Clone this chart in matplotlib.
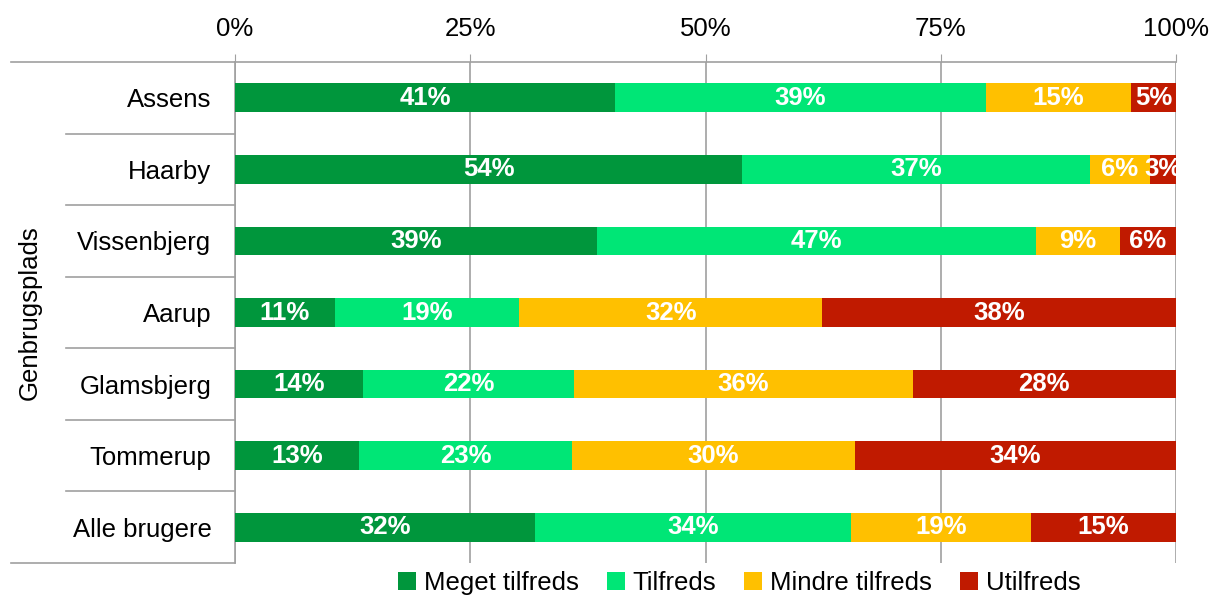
import numpy as np
import matplotlib.pyplot as plt
from matplotlib.transforms import blended_transform_factory

plt.rcParams['font.family'] = ['Liberation Sans', 'DejaVu Sans']

categories = ['Assens', 'Haarby', 'Vissenbjerg', 'Aarup', 'Glamsbjerg', 'Tommerup', 'Alle brugere']
series = ['Meget tilfreds', 'Tilfreds', 'Mindre tilfreds', 'Utilfreds']
colors = ['#00963C', '#00E676', '#FFC000', '#C01A00']

meget = [40.4, 53.9, 38.5, 10.6, 13.6, 13.2, 31.9]
tilfreds = [39.4, 37.0, 46.6, 19.6, 22.4, 22.6, 33.6]
mindre = [15.4, 6.3, 8.9, 32.2, 36.0, 30.1, 19.1]
utilfreds = [4.8, 2.8, 6.0, 37.6, 28.0, 34.1, 15.4]

labels_meget = [41, 54, 39, 11, 14, 13, 32]
labels_tilfreds = [39, 37, 47, 19, 22, 23, 34]
labels_mindre = [15, 6, 9, 32, 36, 30, 19]
labels_utilfreds = [5, 3, 6, 38, 28, 34, 15]

values = [meget, tilfreds, mindre, utilfreds]
labels = [labels_meget, labels_tilfreds, labels_mindre, labels_utilfreds]

fig = plt.figure(figsize=(12.12, 5.97), dpi=100)
ax = fig.add_axes([235 / 1212, 1 - 563 / 597, 941 / 1212, 501 / 597])

y = np.arange(len(categories))
left = np.zeros(len(categories))
for vals, labs, col, name in zip(values, labels, colors, series):
    vals = np.array(vals)
    ax.barh(y, vals, left=left, height=0.4, color=col, label=name, zorder=3)
    for yi, (l, v, t) in enumerate(zip(left, vals, labs)):
        ax.text(l + v / 2, yi, f'{t}%', ha='center', va='center', color='white',
                fontsize=18.5, fontweight='bold', zorder=4)
    left += vals

ax.set_xlim(0, 100)
ax.set_ylim(len(categories) - 0.5, -0.5)
ax.set_xticks([0, 25, 50, 75, 100])
ax.set_xticklabels(['0%', '25%', '50%', '75%', '100%'])
ax.xaxis.tick_top()
ax.tick_params(axis='x', length=6, color='#A0A0A0', pad=9, labelsize=18.5)
ax.set_yticks(y)
ax.set_yticklabels(categories)
ax.tick_params(axis='y', length=0, pad=17, labelsize=18.5)
ax.grid(axis='x', color='#A0A0A0', linewidth=1.2, zorder=0)

for s in ['right', 'bottom']:
    ax.spines[s].set_visible(False)
for s in ['top', 'left']:
    ax.spines[s].set_color('#A0A0A0')
    ax.spines[s].set_linewidth(1.2)

# category separator lines on the left
tr = blended_transform_factory(ax.transAxes, ax.transData)
for b in np.arange(0.5, len(categories) - 1, 1.0):
    ax.plot([-0.1796, 0], [b, b], color='#A0A0A0', lw=1.2, transform=tr, clip_on=False)
for b in [-0.5, len(categories) - 0.5]:
    ax.plot([-0.238, 0], [b, b], color='#A0A0A0', lw=1.2, transform=tr, clip_on=False)

fig.text(30 / 1212, 1 - 313 / 597, 'Genbrugsplads', rotation=90, ha='center', va='center', fontsize=18.5)

fig.legend(loc='center', bbox_to_anchor=(0.61, 0.024), ncol=4, frameon=False, fontsize=18.5,
           handlelength=0.7, handleheight=0.7, handletextpad=0.3, columnspacing=1.1,
           borderaxespad=0, borderpad=0)

fig.savefig('out.png', dpi=100)
